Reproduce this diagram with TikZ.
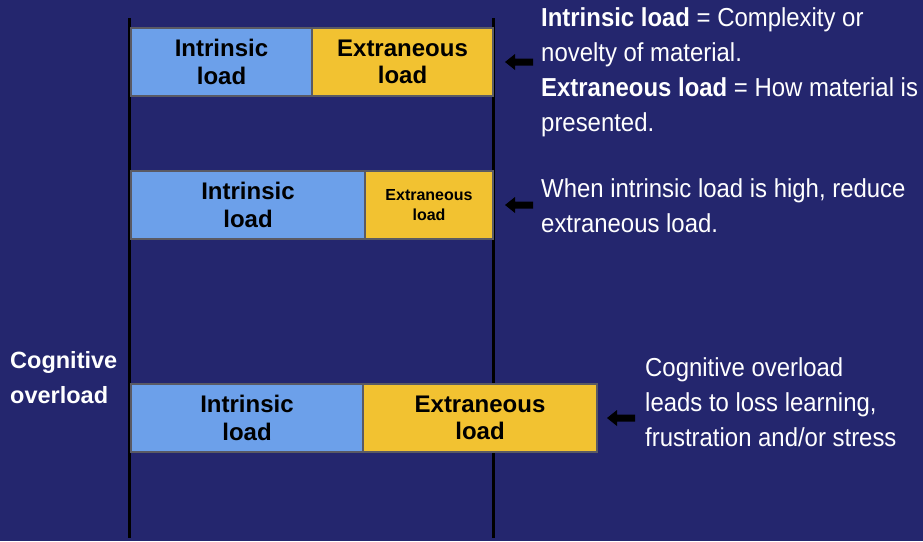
\documentclass[tikz,border=0pt]{standalone}
\usepackage{fontspec}
\setmainfont{Liberation Sans}
\newfontfamily\narrowfont[FakeStretch=0.92]{Liberation Sans}
\definecolor{bgnavy}{RGB}{36,38,110}
\definecolor{intrblue}{RGB}{108,160,234}
\definecolor{extryellow}{RGB}{242,194,49}
\definecolor{boxedge}{RGB}{90,90,100}
\tikzset{
  loadbox/.style={draw=boxedge, line width=1.2pt, inner sep=0pt, minimum height=68pt,
    align=center, font=\bfseries\fontsize{24}{27.5}\selectfont, text=black},
  intrbox/.style={loadbox, fill=intrblue},
  extrbox/.style={loadbox, fill=extryellow},
  smallbox/.style={font=\bfseries\fontsize{16}{20}\selectfont},
  rule/.style={line width=3pt, black},
  pointer/.pic={\fill[black] (0,0) -- (10,-8) -- (10,-3.5) -- (28,-3.5) -- (28,3.5) -- (10,3.5) -- (10,8) -- cycle;},
  note/.style={anchor=base west, align=left, inner sep=0pt, text=white,
    font=\narrowfont\fontsize{26}{35}\selectfont}
}
\begin{document}
\begin{tikzpicture}[x=1pt,y=-1pt]
\useasboundingbox (0,0) rectangle (923,541);
\fill[bgnavy] (0,0) rectangle (923,541);
% vertical rules
\coordinate (lt) at (129,18);
\coordinate (lb) at (129,538);
\coordinate (rt) at (493,18);
\coordinate (rb) at (493,538);
\draw[rule] (lt) -- (lb);
\draw[rule] (rt) -- (rb);
% row 1
\node[intrbox, minimum width=181pt] (i1) at (221.5,62) {Intrinsic\\load};
\node[extrbox, minimum width=181pt] (e1) at (402.5,62) {Extraneous\\load};
% row 2
\node[intrbox, minimum width=234pt] (i2) at (248,205) {Intrinsic\\load};
\node[extrbox, smallbox, minimum width=128pt] (e2) at (429,205) {Extraneous\\load};
% row 3
\node[intrbox, minimum width=232pt] (i3) at (247,418) {Intrinsic\\load};
\node[extrbox, minimum width=234pt] (e3) at (480,418) {Extraneous\\load};
% arrows
\pic (a1) at (505,62) {pointer};
\pic (a2) at (505,205) {pointer};
\pic (a3) at (607,418) {pointer};
% texts (anchored at the baseline of their last line)
\node[note] (t1) at (541,131) {\textbf{Intrinsic load} = Complexity or\\novelty of material.\\\textbf{Extraneous load} = How material is\\presented.};
\node[note] (t2) at (541,232) {When intrinsic load is high, reduce\\extraneous load.};
\node[note] (t3) at (645,446) {Cognitive overload\\leads to loss learning,\\frustration and/or stress};
\node[anchor=base west, align=left, inner sep=0pt, text=white,
  font=\bfseries\fontsize{23.5}{35}\selectfont] (co) at (10,403) {Cognitive\\overload};
\end{tikzpicture}
\end{document}
